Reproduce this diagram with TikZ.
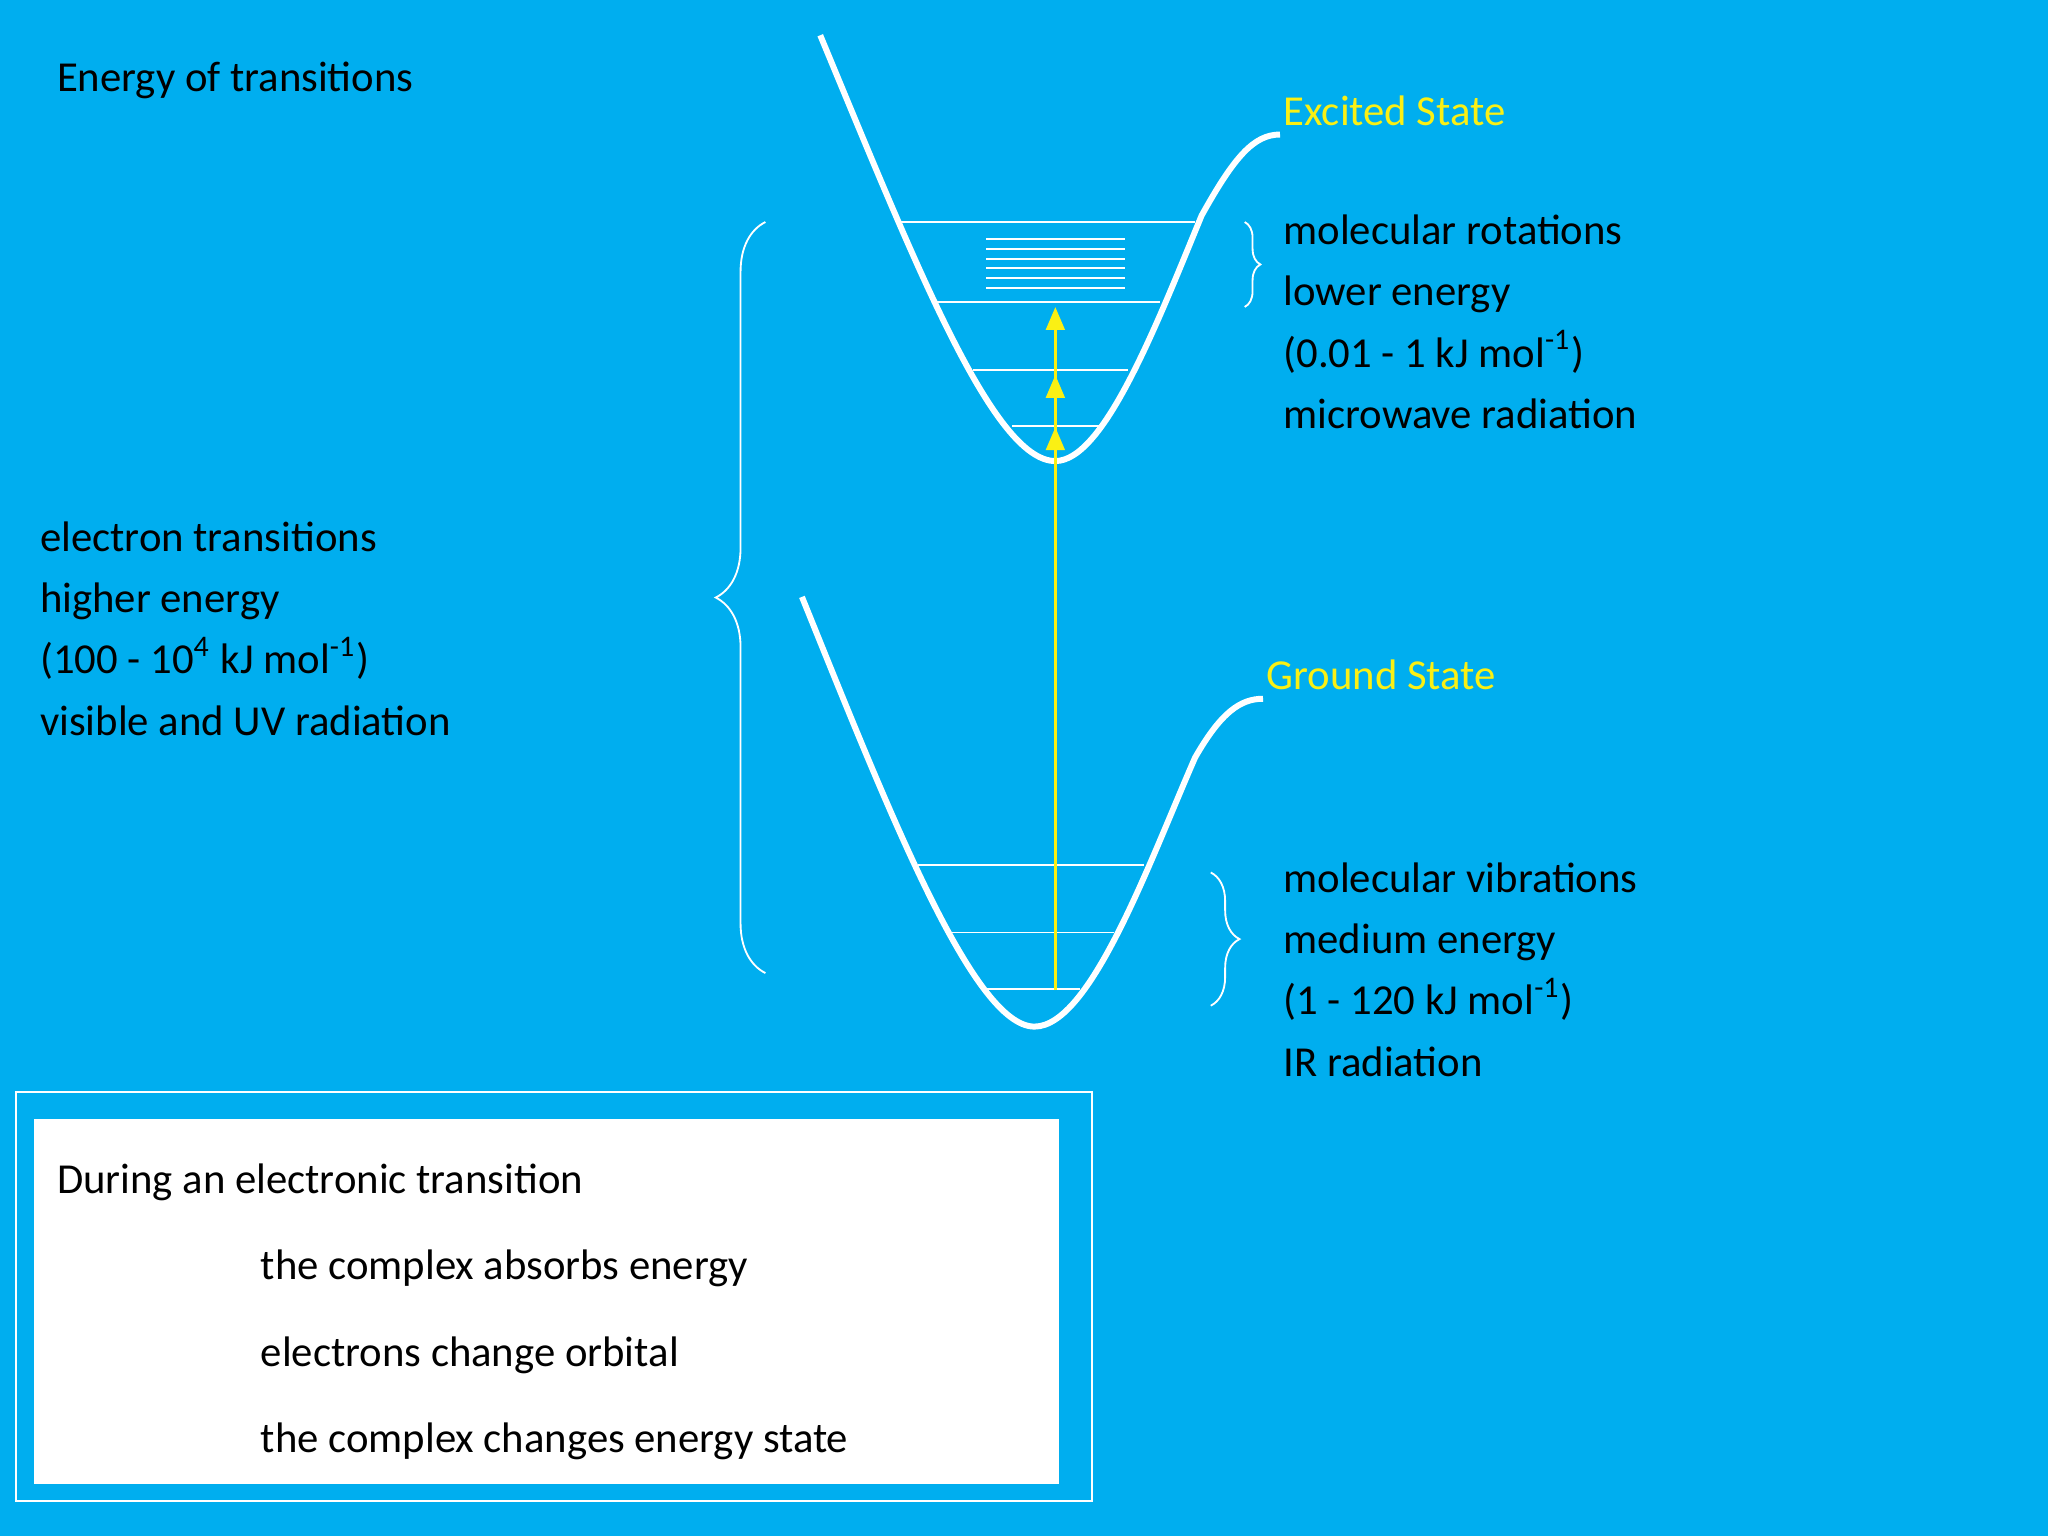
\documentclass[tikz,border=0pt]{standalone}
\usepackage{fontspec}
\setmainfont{Carlito}
\usetikzlibrary{decorations.pathreplacing,arrows.meta}
\definecolor{bg}{RGB}{0,174,239}
\definecolor{ylw}{RGB}{250,240,20}
\begin{document}
\begin{tikzpicture}[x=0.01cm,y=-0.01cm,
  txt/.style={anchor=base west,inner sep=0,font=\fontsize{9.3}{11}\selectfont},
  curve/.style={white,line width=1.3pt},
  lvl/.style={white,line width=0.4pt},
  brc/.style={white,line width=0.4pt,decorate}]
\fill[bg] (0,0) rectangle (1568,1176);
\useasboundingbox (0,0) rectangle (1568,1176);
% curves
\draw[curve] (628,27) .. controls (700,200) and (760,353) .. (808,353) .. controls (845,353) and (885,250) .. (920,165) .. controls (945,120) and (960,103) .. (980,103);
\draw[curve] (614,457) .. controls (680,620) and (745,786) .. (792,786) .. controls (835,786) and (880,660) .. (915,580) .. controls (935,545) and (950,535) .. (967,535);
% levels
\foreach \y/\a/\b in {170/687/915,231/716/888,283/745/864,326/775/842,662/703/876,714/727/853,757/753/827}
  \draw[lvl] (\a,\y) -- (\b,\y);
\foreach \y in {183,190.5,198,205.5,213,220.5}
  \draw[lvl] (755,\y) -- (861,\y);
% arrow
\coordinate (s) at (808,758);
\coordinate (e) at (808,235);
\coordinate (m1) at (808,287);
\coordinate (m2) at (808,327);
\draw[ylw,line width=0.8pt,-{Triangle[length=5pt,width=4pt]}] (s) -- (e);
\draw[ylw,line width=0.8pt,-{Triangle[length=5pt,width=4pt]}] (s) -- (m1);
\draw[ylw,line width=0.8pt,-{Triangle[length=5pt,width=4pt]}] (s) -- (m2);
% braces
\coordinate (b1a) at (586,745); \coordinate (b1b) at (586,170);
\draw[brc,decoration={brace,amplitude=0.38cm}] (b1a) -- (b1b);
\coordinate (b2a) at (953,170); \coordinate (b2b) at (953,235);
\draw[brc,decoration={brace,amplitude=0.12cm}] (b2a) -- (b2b);
\coordinate (b3a) at (927,668); \coordinate (b3b) at (927,770);
\draw[brc,decoration={brace,amplitude=0.22cm}] (b3a) -- (b3b);
% texts
\node[txt] (title) at (43,70) {Energy of transitions};
\node[txt,text=ylw] (ex) at (982,96) {Excited State};
\node[txt,text=ylw] (gs) at (969,528) {Ground State};
\node[txt] (r1) at (982,187) {molecular rotations};
\node[txt] (r2) at (982,234) {lower energy};
\node[txt] (r3) at (982,281) {(0.01 - 1 kJ mol\textsuperscript{-1})};
\node[txt] (r4) at (982,328) {microwave radiation};
\node[txt] (v1) at (982,683) {molecular vibrations};
\node[txt] (v2) at (982,730) {medium energy};
\node[txt] (v3) at (982,777) {(1 - 120 kJ mol\textsuperscript{-1})};
\node[txt] (v4) at (982,824) {IR radiation};
\node[txt] (e1) at (30,422) {electron transitions};
\node[txt] (e2) at (30,469) {higher energy};
\node[txt] (e3) at (30,516) {(100 - 10\textsuperscript{4} kJ mol\textsuperscript{-1})};
\node[txt] (e4) at (30,563) {visible and UV radiation};
% box
\draw[white,line width=0.5pt] (12,836) rectangle (836,1149);
\fill[white] (26,857) rectangle (811,1136);
\node[txt] (d1) at (43,914) {During an electronic transition};
\node[txt] (d2) at (199,980) {the complex absorbs energy};
\node[txt] (d3) at (199,1046) {electrons change orbital};
\node[txt] (d4) at (199,1112) {the complex changes energy state};
\end{tikzpicture}
\end{document}
